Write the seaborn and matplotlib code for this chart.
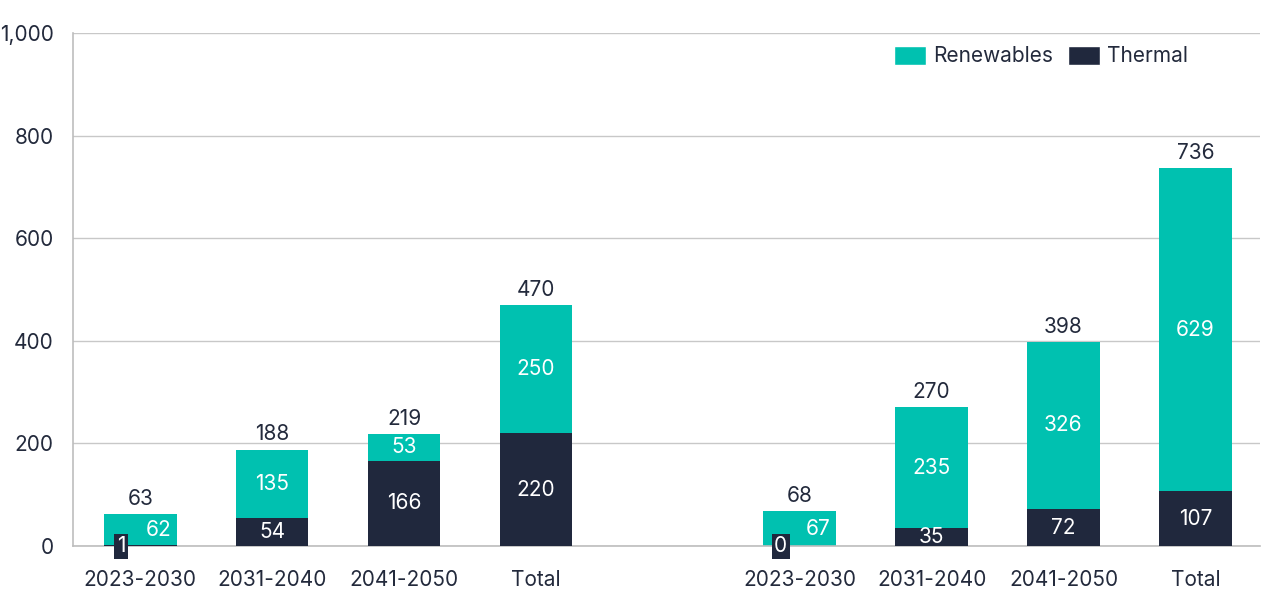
import numpy as np
import pandas as pd
import seaborn as sns
import matplotlib.pyplot as plt
from matplotlib.patches import Patch
from matplotlib.ticker import FuncFormatter

### data
periods = ["2023-2030", "2031-2040", "2041-2050", "Total",
           "2023-2030", "2031-2040", "2041-2050", "Total"]
positions = [0, 1, 2, 3, 5, 6, 7, 8]
renewables = [62, 135, 53, 250, 67, 235, 326, 629]
thermal = [1, 54, 166, 220, 0, 35, 72, 107]
totals = [63, 188, 219, 470, 68, 270, 398, 736]

teal = "#00c1b0"
navy = "#20283d"
ink = "#232a3c"
fs = 15

df = pd.DataFrame({"pos": positions, "period": periods, "renewables": renewables,
                   "thermal": thermal, "total": totals})

sns.set_theme(style="white")
plt.rcParams['font.family'] = ['Inter', 'DejaVu Sans']

fig = plt.figure(figsize=(12.69, 5.97), dpi=100)
ax = fig.add_axes([73 / 1269, 51 / 597, 1187 / 1269, 513 / 597])

# stacked bars: full total in teal, thermal drawn over it
sns.barplot(data=df, x="pos", y="total", native_scale=True, color=teal,
            width=0.55, saturation=1, linewidth=0, ax=ax, zorder=2)
sns.barplot(data=df, x="pos", y="thermal", native_scale=True, color=navy,
            width=0.55, saturation=1, linewidth=0, ax=ax, zorder=3)

ax.set_xlim(-0.51, 8.49)
ax.set_ylim(0, 1000)
ax.set_yticks(range(0, 1001, 200))
ax.yaxis.set_major_formatter(FuncFormatter(lambda v, p: f"{int(v):,}"))
ax.set_xticks(positions)
ax.set_xticklabels(periods)
ax.set_xlabel("")
ax.set_ylabel("")
ax.tick_params(axis="both", length=0, labelsize=fs, labelcolor=ink)
ax.tick_params(axis="x", pad=17)
ax.tick_params(axis="y", pad=14)
ax.grid(axis="y", color="#c8c8c8", linewidth=1, zorder=0)
ax.set_axisbelow(True)
for side in ["top", "right"]:
    ax.spines[side].set_visible(False)
for side in ["left", "bottom"]:
    ax.spines[side].set_color("#bdbdbd")
    ax.spines[side].set_linewidth(1.2)

# value labels
for x, r, t, tot in zip(positions, renewables, thermal, totals):
    ax.text(x, tot + 10, f"{tot}", ha="center", va="bottom", fontsize=fs, color=ink)
    if t < 10:
        ax.text(x - 0.145, 0, f"{t}", ha="center", va="center", fontsize=fs,
                color="white", zorder=5, clip_on=False,
                bbox=dict(boxstyle="square,pad=0.12", fc=navy, ec="none"))
        ax.text(x + 0.14, t + r / 2, f"{r}", ha="center", va="center",
                fontsize=fs, color="white", zorder=5)
    else:
        ax.text(x, t / 2, f"{t}", ha="center", va="center", fontsize=fs,
                color="white", zorder=5)
        ax.text(x, t + r / 2, f"{r}", ha="center", va="center", fontsize=fs,
                color="white", zorder=5)

handles = [Patch(facecolor=teal, label="Renewables"), Patch(facecolor=navy, label="Thermal")]
ax.legend(handles=handles, loc="center right", bbox_to_anchor=(0.948, 0.955), ncol=2,
          frameon=False, fontsize=fs, labelcolor=ink, handlelength=1.5,
          handleheight=1.05, handletextpad=0.35, columnspacing=0.75, borderpad=0)

fig.savefig("out.png", dpi=100)
